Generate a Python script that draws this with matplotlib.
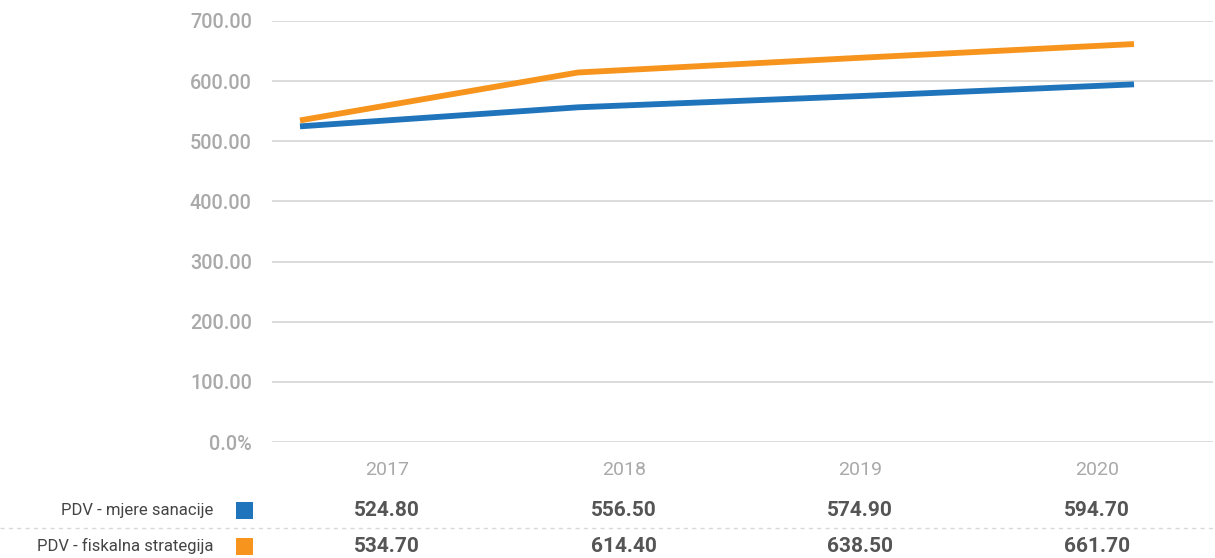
import matplotlib
matplotlib.use("Agg")
import matplotlib.pyplot as plt
from matplotlib.lines import Line2D
from matplotlib.patches import Rectangle

years = ["2017", "2018", "2019", "2020"]
series_names = ["PDV - mjere sanacije", "PDV - fiskalna strategija"]
mjere = [524.80, 556.50, 574.90, 594.70]
fiskalna = [534.70, 614.40, 638.50, 661.70]
yticks = [0, 100, 200, 300, 400, 500, 600, 700]
ytick_labels = ["0.0%", "100.00", "200.00", "300.00", "400.00", "500.00", "600.00", "700.00"]
colors = ["#1f74bb", "#f7941d"]

W, H = 1215, 558
fig = plt.figure(figsize=(W / 100, H / 100), dpi=100)

def fx(px):
    return px / W

def fy(py):
    return 1 - py / H

ax_l, ax_r = 272, 1213
ax_t, ax_b = 21, 442
ax = fig.add_axes([fx(ax_l), fy(ax_b), fx(ax_r) - fx(ax_l), fy(ax_t) - fy(ax_b)])
x0_px, x3_px = 300, 1134
step = (x3_px - x0_px) / 3
ax.set_xlim(-(x0_px - ax_l) / step, 3 + (ax_r - x3_px) / step)
ax.set_ylim(0, 700)
for s in ax.spines.values():
    s.set_visible(False)
ax.set_xticks([])
ax.set_yticks(yticks)
ax.set_yticklabels(ytick_labels)
ax.tick_params(axis="y", length=0, pad=14.5, labelsize=14.3, labelcolor="#a9a9a9")
for lab in ax.get_yticklabels():
    lab.set_fontfamily("Roboto")
    lab.set_fontweight("medium")
for t in yticks:
    ax.axhline(t, color="#dcdcdc", lw=1.4, zorder=1)

xs = list(range(len(years)))
ax.plot(xs, mjere, color=colors[0], lw=4.2, solid_capstyle="butt", zorder=3, clip_on=False)
ax.plot(xs, fiskalna, color=colors[1], lw=4.2, solid_capstyle="butt", zorder=4, clip_on=False)

col_x = [387, 624, 860, 1097]
for cx, yr in zip(col_x, years):
    fig.text(fx(cx), fy(470), yr, ha="center", va="center", fontsize=14,
             color="#a9a9a9", family="Roboto")

rows_y = [510, 546]
for ry, name, col, vals in zip(rows_y, series_names, colors, [mjere, fiskalna]):
    fig.text(fx(213), fy(ry), name, ha="right", va="center", fontsize=12.0,
             color="#444444", family=["Roboto", "DejaVu Sans"])
    fig.patches.append(Rectangle((fx(236), fy(ry + 8.5)), fx(17), 17 / H,
                                 transform=fig.transFigure, facecolor=col,
                                 edgecolor="none"))
    for cx, v in zip(col_x, vals):
        fig.text(fx(cx), fy(ry + 1), f"{v:.2f}", ha="center", va="center",
                 fontsize=15, fontweight="bold", color="#555555", family="Roboto")

fig.lines.append(Line2D([0, 1], [fy(528), fy(528)], transform=fig.transFigure,
                        color="#d8d8d8", lw=1, linestyle=(0, (3, 3))))

fig.savefig("out.png", dpi=100)
